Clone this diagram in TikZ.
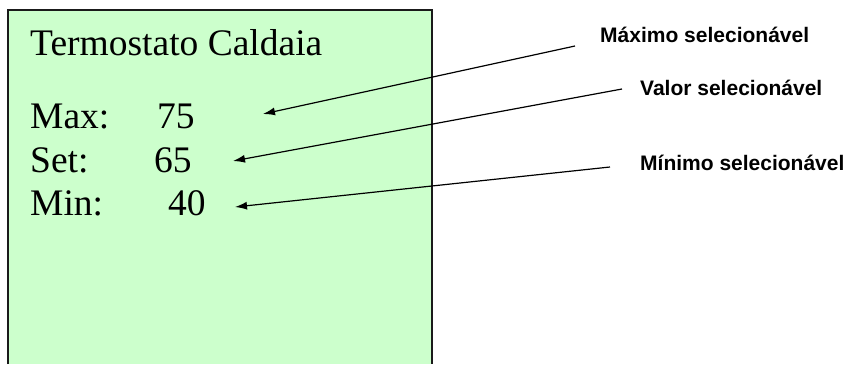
\documentclass[tikz,border=0pt]{standalone}
\usepackage{fontspec}
\setmainfont{Liberation Serif}
\setsansfont{Liberation Sans}
\usepackage{xcolor}
\usetikzlibrary{arrows.meta, positioning}

\definecolor{lcdgreen}{HTML}{CCFFCC}
\definecolor{lcdframe}{HTML}{1A1A1A}

\begin{document}
\begin{tikzpicture}[x=1pt, y=-1pt,
        lcdtext/.style={anchor=base west, inner sep=0pt, font=\fontsize{37.5}{42}\selectfont},
        hint/.style={anchor=base west, inner sep=0pt, font=\sffamily\bfseries\fontsize{21}{24}\selectfont},
        pointer/.style={line width=1.2pt, -{Latex[length=12pt, width=8pt]}}]
        \useasboundingbox (0, 0) rectangle (850, 364);

        % display panel, open at the bottom
        \fill[lcdgreen] (8, 10) rectangle (432, 364);
        \draw[lcdframe, line width=2.5pt] (8, 364) -- (8, 10) -- (432, 10) -- (432, 364);

        \node[lcdtext] (title) at (30, 55) {Termostato Caldaia};
        \node[lcdtext] (maxlbl) at (30, 128) {Max:};
        \node[lcdtext] (maxval) at (157, 128) {75};
        \node[lcdtext] (setlbl) at (30, 172) {Set:};
        \node[lcdtext] (setval) at (154, 172) {65};
        \node[lcdtext] (minlbl) at (30, 215) {Min:};
        \node[lcdtext] (minval) at (168, 215) {40};

        \node[hint] (maxhint) at (600, 42) {Máximo selecionável};
        \node[hint] (sethint) at (640, 95) {Valor selecionável};
        \node[hint] (minhint) at (640, 170) {Mínimo selecionável};

        \coordinate (maxfrom) at (575, 46);
        \coordinate (maxto) at (263, 114);
        \coordinate (setfrom) at (622, 89);
        \coordinate (setto) at (233, 161);
        \coordinate (minfrom) at (610, 167);
        \coordinate (minto) at (235, 207);

        \draw[pointer] (maxfrom) -- (maxto);
        \draw[pointer] (setfrom) -- (setto);
        \draw[pointer] (minfrom) -- (minto);
      \end{tikzpicture}
\end{document}
